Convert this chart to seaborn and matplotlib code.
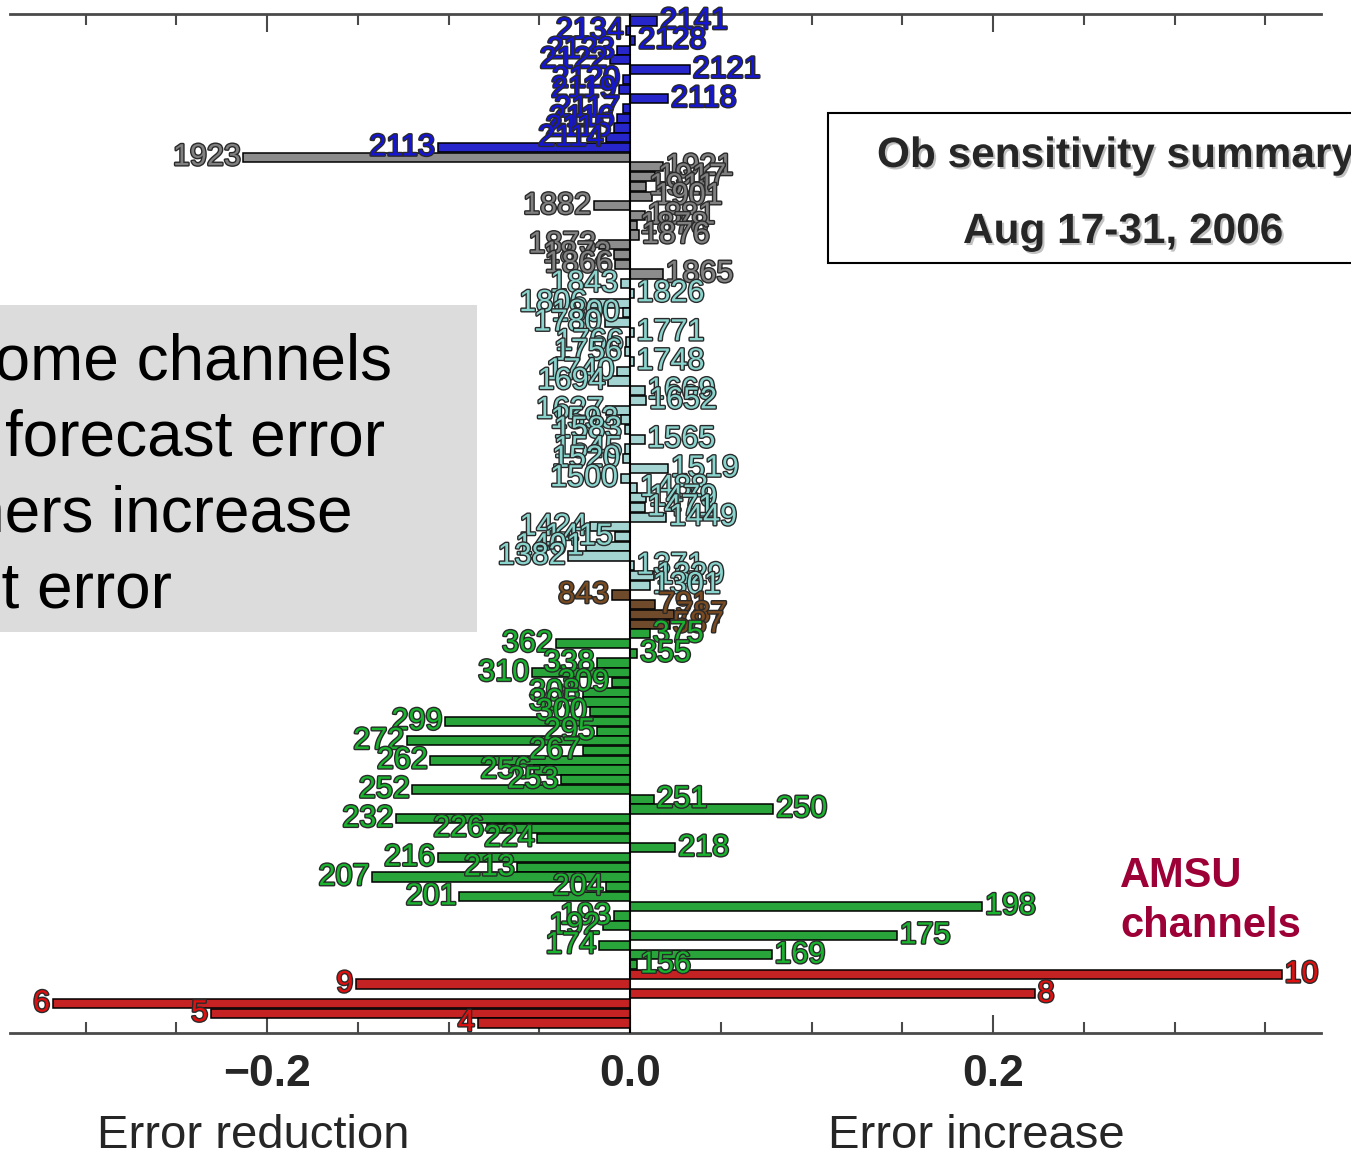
import matplotlib
matplotlib.use('Agg')
import numpy as np
import pandas as pd
import matplotlib.pyplot as plt
import matplotlib.patheffects as pe
from matplotlib.patches import Rectangle
from matplotlib.ticker import MultipleLocator, FixedLocator
import seaborn as sns

# channel groups, listed top to bottom as drawn

iasi_hi_ch = [2141, 2134, 2128, 2123, 2122, 2121, 2120, 2119, 2118, 2117, 2116, 2115, 2114, 2113]
iasi_hi_val = [0.015, -0.002, 0.003, -0.007, -0.011, 0.033, -0.004, -0.006, 0.021, -0.004, -0.007, -0.009, -0.013, -0.106]

wv_ch = [1923, 1921, 1917, 1911, 1901, 1882, 1881, 1878, 1876, 1873, 1872, 1866, 1865]
wv_val = [-0.213, 0.018, 0.014, 0.009, 0.012, -0.020, 0.008, 0.004, 0.005, -0.017, -0.009, -0.008, 0.018]

mid_ch = [1843, 1826, 1806, 1800, 1780, 1771, 1766, 1756, 1748, 1740, 1694, 1669, 1652, 1627, 1593, 1583,
          1565, 1545, 1520, 1519, 1500, 1488, 1479, 1471, 1449, 1424, 1415, 1401, 1382, 1371, 1329, 1301]
mid_val = [-0.005, 0.002, -0.022, -0.004, -0.014, 0.002, -0.002, -0.003, 0.002, -0.007, -0.012, 0.008, 0.009, -0.013, -0.005, -0.003,
           0.008, -0.003, -0.004, 0.021, -0.005, 0.004, 0.009, 0.008, 0.020, -0.022, -0.008, -0.024, -0.034, 0.002, 0.013, 0.011]

win_ch = [843, 791, 787, 587]
win_val = [-0.010, 0.014, 0.024, 0.022]

co2_ch = [375, 362, 355, 338, 310, 309, 308, 305, 300, 299, 295, 272, 267, 262, 256, 253, 252, 251,
          250, 232, 226, 224, 218, 216, 213, 207, 204, 201, 198, 193, 192, 175, 174, 169, 156]
co2_val = [0.011, -0.041, 0.004, -0.018, -0.054, -0.010, -0.026, -0.026, -0.022, -0.102, -0.018, -0.123, -0.026, -0.110, -0.053, -0.038, -0.120, 0.013,
           0.079, -0.129, -0.079, -0.051, 0.025, -0.106, -0.062, -0.142, -0.013, -0.094, 0.194, -0.009, -0.015, 0.147, -0.017, 0.078, 0.004]

amsu_ch = [10, 9, 8, 6, 5, 4]
amsu_val = [0.359, -0.151, 0.223, -0.318, -0.231, -0.084]

bar_colors = {'hi': '#0a0ae6', 'wv': '#8c8c8c', 'mid': '#9cdcd8', 'win': '#7a4a20', 'co2': '#14b82c', 'amsu': '#e00808'}
text_colors = {'hi': '#1515d8', 'wv': '#808080', 'mid': '#8ad4ce', 'win': '#7a4a20', 'co2': '#18b42e', 'amsu': '#e01010'}

groups = [('hi', iasi_hi_ch, iasi_hi_val), ('wv', wv_ch, wv_val), ('mid', mid_ch, mid_val),
          ('win', win_ch, win_val), ('co2', co2_ch, co2_val), ('amsu', amsu_ch, amsu_val)]

rows = []
for g, chs, vals in groups:
    for c, v in zip(chs, vals):
        rows.append({'channel': str(c), 'value': v, 'group': g})
df = pd.DataFrame(rows)

sns.set_style('white')
plt.rcParams['font.family'] = ['Liberation Sans', 'DejaVu Sans']

W, H = 1351, 1156
fig = plt.figure(figsize=(W / 100, H / 100), dpi=100)
ax = fig.add_axes([10 / W, 123 / H, 1311 / W, 1019 / H])

sns.barplot(data=df, x='value', y='channel', hue='group', palette=bar_colors, orient='h',
            order=list(df['channel']), width=0.94, edgecolor='black', linewidth=1.1,
            dodge=False, legend=False, ax=ax)

ax.axvline(0, color='black', lw=1.5, zorder=3)

for i, r in df.iterrows():
    v = r['value']
    ax.annotate(r['channel'], xy=(v, i), xytext=(2 if v >= 0 else -2, 0), textcoords='offset points',
                ha='left' if v >= 0 else 'right', va='center', fontsize=22,
                color=text_colors[r['group']],
                path_effects=[pe.withStroke(linewidth=2, foreground='#2a2a2a')], zorder=4)

ax.set_xlim(-0.3416, 0.3807)
ax.set_ylim(104.03, -0.72)
ax.set_xlabel('')
ax.set_ylabel('')
ax.set_yticks([])

for s in ['left', 'right']:
    ax.spines[s].set_visible(False)
for s in ['top', 'bottom']:
    ax.spines[s].set_color('#4a4a4a')
    ax.spines[s].set_linewidth(2)

ax.xaxis.set_major_locator(FixedLocator([-0.2, 0.0, 0.2]))
ax.xaxis.set_minor_locator(MultipleLocator(0.05))
ax.set_xticklabels(['\u22120.2', '0.0', '0.2'], fontsize=32, fontweight='bold')
ax.tick_params(axis='x', which='both', direction='in', top=True, bottom=True, labeltop=False,
               color='#4a4a4a', width=1.5)
ax.tick_params(axis='x', which='major', length=13, pad=15)
ax.tick_params(axis='x', which='minor', length=8)


def fx(px):
    return px / W


def fy(py):
    return 1 - py / H


# grey note box on the left, cut off by the page edge
fig.add_artist(Rectangle((0, fy(632)), fx(477), (632 - 305) / H, transform=fig.transFigure,
                         facecolor='#dcdcdc', edgecolor='none', zorder=5))
note_lines = [('Some channels', 392, 380), ('reduce forecast error', 385, 456),
              ('others increase', 353, 531), ('forecast error', 172, 607)]
for txt, xr, yb in note_lines:
    fig.text(fx(xr), fy(yb), txt, ha='right', va='baseline', fontsize=46, color='black', zorder=6)

# title box on the right
fig.add_artist(Rectangle((fx(828), fy(263)), (1370 - 828) / W, 150 / H, transform=fig.transFigure,
                         facecolor='white', edgecolor='black', lw=1.5, zorder=5))
shadow = [pe.withSimplePatchShadow(offset=(1.5, -1.5), shadow_rgbFace='#999999', alpha=0.6)]
fig.text(fx(877), fy(167), 'Ob sensitivity summary', ha='left', va='baseline', fontsize=30.5,
         fontweight='bold', zorder=6, path_effects=shadow)
fig.text(fx(963), fy(243), 'Aug 17-31, 2006', ha='left', va='baseline', fontsize=30.5,
         fontweight='bold', zorder=6, path_effects=shadow)

fig.text(fx(1120), fy(887), 'AMSU', ha='left', va='baseline', fontsize=30, fontweight='bold', color='#9c0036')
fig.text(fx(1120), fy(937), 'channels', ha='left', va='baseline', fontsize=30, fontweight='bold', color='#9c0036')

fig.text(fx(97), fy(1148), 'Error reduction', ha='left', va='baseline', fontsize=34)
fig.text(fx(828), fy(1148), 'Error increase', ha='left', va='baseline', fontsize=34)

fig.savefig('out.png', dpi=100)
